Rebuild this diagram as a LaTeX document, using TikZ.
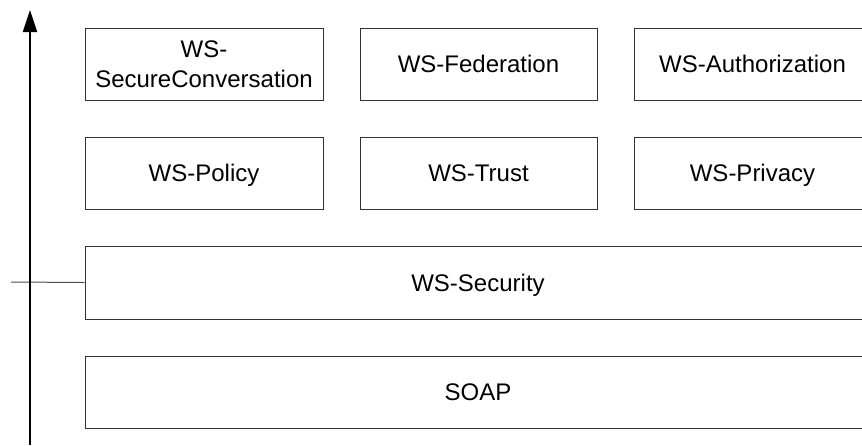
\documentclass[tikz,border=0pt]{standalone}
\usepackage{fontspec}
\setmainfont{Liberation Sans}
\usetikzlibrary{arrows.meta}
% a text line measured from cap top to baseline, so labels centre on their capitals
\newcommand\capline[1]{\raisebox{0pt}[17.2pt][0pt]{#1}}
\begin{document}
\begin{tikzpicture}[x=1pt,y=-1pt,
  layer/.style={draw=black!80,line width=1pt,inner sep=0pt,align=center,
    font=\fontsize{24}{30}\selectfont},
  axis/.style={line width=2pt,-{Triangle[length=22pt,width=14pt]}},
  tick/.style={draw=black!70,line width=1pt}]
\useasboundingbox (0,0) rectangle (862,445);
\clip (0,0) rectangle (862,445);
% protocol boxes, top row
\node[layer,minimum width=238pt,minimum height=72pt] (sc)  at (204,64)  {\capline{WS-}\\\capline{SecureConversation}};
\node[layer,minimum width=237pt,minimum height=72pt] (fed) at (478.5,64) {\capline{WS-Federation}};
\node[layer,minimum width=237pt,minimum height=72pt] (aut) at (752.5,64) {\capline{WS-Authorization}};
% middle row
\node[layer,minimum width=238pt,minimum height=72pt] (pol) at (204,173)  {\capline{WS-Policy}};
\node[layer,minimum width=237pt,minimum height=72pt] (tru) at (478.5,173) {\capline{WS-Trust}};
\node[layer,minimum width=237pt,minimum height=72pt] (pri) at (752.5,173) {\capline{WS-Privacy}};
% foundation layers
\node[layer,minimum width=786pt,minimum height=73pt] (sec)  at (478,282.5) {\capline{WS-Security}};
\node[layer,minimum width=786pt,minimum height=72pt] (soap) at (478,392)   {\capline{SOAP}};
% vertical axis and the marker at WS-Security
\coordinate (abot) at (30,445);
\coordinate (atop) at (30,10);
\coordinate (tk) at (11,282);
\draw[tick] (tk) -- (sec.west);
\draw[axis] (abot) -- (atop);
\end{tikzpicture}
\end{document}
